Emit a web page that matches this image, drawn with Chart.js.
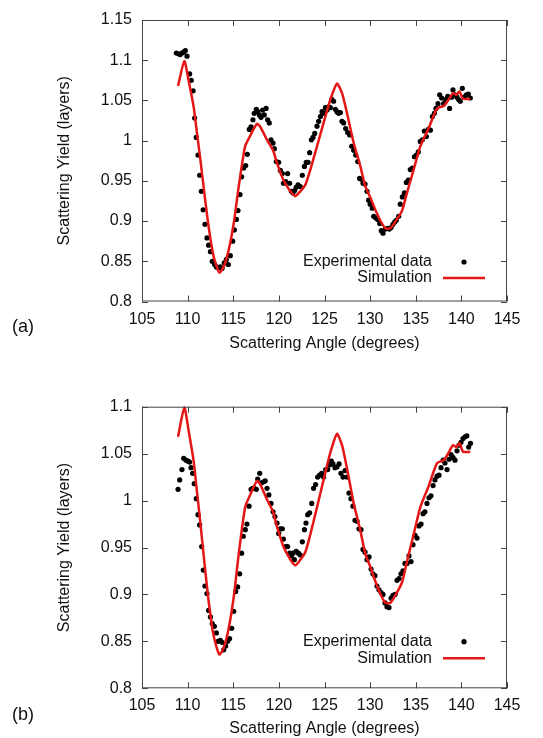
<!DOCTYPE html>
<html>
<head>
<meta charset="utf-8">
<script src="https://cdn.jsdelivr.net/npm/chart.js@4/dist/chart.umd.min.js"></script>
<style>
  body { margin: 0; background: #fff; width: 543px; height: 738px; position: relative; overflow: hidden; }
  .panel { position: absolute; left: 0; width: 543px; height: 369px; }
  .tag { position: absolute; left: 12px; font: 18px "Liberation Sans", Arial, sans-serif; color: #111; }
</style>
</head>
<body>
<div class="panel" style="top:0"><canvas id="chartA" width="543" height="369"></canvas></div>
<div class="panel" style="top:369px"><canvas id="chartB" width="543" height="369"></canvas></div>
<div class="tag" style="top:316px">(a)</div>
<div class="tag" style="top:704px">(b)</div>
<script>
// simulation (same curve in both panels)
const simAngle = [108.95, 109.64, 110.1, 110.66, 111.03, 111.4, 111.83, 112.3, 112.85, 113.47, 113.95, 114.5, 115.05, 115.6, 116.3, 116.9, 117.6, 117.97, 118.7, 119.36, 119.8, 120.5, 121.26, 121.8, 122.35, 122.9, 123.45, 124.18, 124.9, 125.64, 126.37, 126.92, 127.47, 128.2, 128.93, 129.48, 130.0, 130.57, 131.1, 131.67, 132.2, 132.76, 133.5, 134.04, 134.77, 135.5, 136.4, 137.33, 138.06, 138.6, 139.08, 139.45, 139.8, 140.18, 140.98];
const simYield = [1.068, 1.099, 1.075, 1.042, 1.009, 0.976, 0.935, 0.893, 0.856, 0.836, 0.843, 0.864, 0.897, 0.943, 0.993, 1.007, 1.021, 1.017, 1.001, 0.988, 0.972, 0.951, 0.937, 0.931, 0.937, 0.945, 0.964, 0.993, 1.022, 1.051, 1.071, 1.059, 1.034, 0.997, 0.968, 0.943, 0.930, 0.914, 0.901, 0.891, 0.891, 0.899, 0.913, 0.935, 0.964, 0.993, 1.015, 1.040, 1.043, 1.051, 1.059, 1.057, 1.061, 1.052, 1.052];

// experimental data, panel (a)
const expAngleA = [108.76, 109.0, 109.2, 109.38, 109.56, 109.75, 109.93, 110.22, 110.4, 110.6, 110.77, 110.95, 111.14, 111.32, 111.5, 111.7, 111.9, 112.12, 112.3, 112.5, 112.7, 112.96, 113.15, 113.33, 113.58, 113.77, 114.02, 114.24, 114.46, 114.68, 114.94, 115.12, 115.34, 115.52, 115.74, 115.92, 116.14, 116.36, 116.54, 116.76, 116.95, 117.16, 117.3, 117.53, 117.68, 117.86, 118.04, 118.22, 118.4, 118.6, 118.77, 118.95, 119.14, 119.36, 119.5, 119.72, 119.98, 120.16, 120.38, 120.5, 120.75, 120.96, 121.18, 121.37, 121.55, 121.73, 121.9, 122.1, 122.35, 122.57, 122.8, 123.0, 123.2, 123.37, 123.56, 123.74, 123.93, 124.18, 124.36, 124.55, 124.73, 124.9, 125.1, 125.27, 125.46, 125.64, 125.82, 126.0, 126.19, 126.37, 126.55, 126.74, 126.92, 127.1, 127.32, 127.54, 127.76, 127.98, 128.2, 128.42, 128.64, 128.85, 129.04, 129.22, 129.44, 129.66, 129.84, 130.0, 130.24, 130.39, 130.6, 130.83, 131.05, 131.23, 131.41, 131.67, 131.92, 132.1, 132.3, 132.5, 132.7, 132.87, 133.13, 133.3, 133.53, 133.75, 133.97, 134.19, 134.4, 134.63, 134.85, 135.07, 135.28, 135.5, 135.72, 135.94, 136.16, 136.38, 136.6, 136.82, 137.04, 137.22, 137.44, 137.62, 137.84, 138.06, 138.28, 138.5, 138.71, 138.93, 139.08, 139.3, 139.52, 139.7, 139.88, 140.1, 140.32, 140.54, 140.76, 140.98];
const expYieldA = [1.109, 1.108, 1.107, 1.109, 1.110, 1.112, 1.105, 1.083, 1.075, 1.062, 1.028, 1.004, 0.982, 0.957, 0.937, 0.914, 0.896, 0.879, 0.870, 0.862, 0.850, 0.846, 0.843, 0.842, 0.843, 0.841, 0.848, 0.852, 0.846, 0.857, 0.875, 0.889, 0.902, 0.913, 0.933, 0.955, 0.966, 0.969, 0.983, 1.014, 1.017, 1.026, 1.034, 1.039, 1.036, 1.032, 1.029, 1.038, 1.032, 1.040, 1.026, 1.022, 1.001, 0.997, 0.990, 0.974, 0.973, 0.963, 0.959, 0.947, 0.949, 0.959, 0.947, 0.937, 0.935, 0.938, 0.942, 0.945, 0.943, 0.957, 0.968, 0.973, 0.973, 0.985, 1.001, 1.004, 1.009, 1.018, 1.024, 1.030, 1.036, 1.034, 1.041, 1.038, 1.042, 1.041, 1.051, 1.049, 1.039, 1.036, 1.034, 1.035, 1.024, 1.022, 1.015, 1.010, 1.007, 0.993, 0.988, 0.982, 0.974, 0.953, 0.952, 0.947, 0.946, 0.937, 0.926, 0.921, 0.916, 0.906, 0.904, 0.902, 0.897, 0.888, 0.885, 0.890, 0.891, 0.890, 0.892, 0.896, 0.899, 0.901, 0.906, 0.921, 0.930, 0.935, 0.948, 0.951, 0.964, 0.966, 0.980, 0.982, 0.986, 0.999, 1.001, 1.012, 1.005, 1.014, 1.013, 1.030, 1.034, 1.040, 1.046, 1.057, 1.053, 1.046, 1.051, 1.055, 1.040, 1.054, 1.063, 1.057, 1.054, 1.051, 1.049, 1.065, 1.054, 1.057, 1.058, 1.053];

// experimental data, panel (b)
const expAngleB = [108.95, 109.13, 109.38, 109.57, 109.82, 110.04, 110.22, 110.37, 110.55, 110.73, 110.95, 111.14, 111.32, 111.54, 111.72, 111.9, 112.12, 112.3, 112.5, 112.7, 112.93, 113.15, 113.33, 113.58, 113.77, 113.95, 114.17, 114.39, 114.6, 114.83, 115.05, 115.26, 115.48, 115.7, 115.92, 116.1, 116.32, 116.5, 116.73, 116.95, 117.13, 117.3, 117.53, 117.68, 117.9, 118.1, 118.33, 118.5, 118.7, 118.9, 119.14, 119.36, 119.57, 119.8, 119.98, 120.16, 120.38, 120.5, 120.75, 120.96, 121.18, 121.37, 121.55, 121.7, 121.9, 122.14, 122.35, 122.57, 122.8, 122.97, 123.16, 123.37, 123.6, 123.8, 124.03, 124.25, 124.47, 124.69, 124.9, 125.13, 125.35, 125.57, 125.75, 125.93, 126.15, 126.37, 126.6, 126.8, 127.03, 127.25, 127.47, 127.68, 127.9, 128.12, 128.34, 128.56, 128.78, 129.0, 129.22, 129.44, 129.66, 129.88, 130.1, 130.3, 130.53, 130.75, 130.97, 131.2, 131.41, 131.63, 131.85, 132.07, 132.3, 132.5, 132.73, 132.95, 133.17, 133.38, 133.6, 133.82, 134.04, 134.26, 134.48, 134.7, 134.92, 135.14, 135.36, 135.58, 135.8, 136.0, 136.23, 136.45, 136.67, 136.9, 137.1, 137.33, 137.55, 137.77, 138.0, 138.2, 138.43, 138.65, 138.87, 139.08, 139.3, 139.52, 139.74, 139.96, 140.18, 140.4, 140.6, 140.8, 141.0];
const expYieldB = [1.012, 1.022, 1.033, 1.045, 1.043, 1.042, 1.041, 1.035, 1.029, 1.018, 1.002, 0.985, 0.974, 0.951, 0.926, 0.909, 0.901, 0.883, 0.876, 0.869, 0.866, 0.859, 0.850, 0.851, 0.849, 0.841, 0.845, 0.850, 0.853, 0.864, 0.882, 0.903, 0.908, 0.922, 0.944, 0.962, 0.969, 0.975, 0.994, 1.012, 1.013, 1.013, 1.012, 1.023, 1.029, 1.019, 1.020, 1.021, 1.013, 1.006, 0.997, 0.988, 0.983, 0.976, 0.965, 0.970, 0.970, 0.959, 0.951, 0.951, 0.944, 0.941, 0.944, 0.937, 0.946, 0.944, 0.942, 0.956, 0.969, 0.976, 0.985, 0.987, 0.997, 1.013, 1.017, 1.025, 1.027, 1.029, 1.025, 1.033, 1.033, 1.038, 1.042, 1.039, 1.035, 1.036, 1.039, 1.029, 1.025, 1.032, 1.025, 1.008, 1.002, 0.994, 0.979, 0.978, 0.970, 0.969, 0.948, 0.945, 0.937, 0.940, 0.927, 0.922, 0.920, 0.909, 0.905, 0.902, 0.900, 0.891, 0.887, 0.886, 0.896, 0.899, 0.900, 0.915, 0.917, 0.922, 0.925, 0.933, 0.933, 0.941, 0.935, 0.953, 0.963, 0.960, 0.973, 0.975, 0.986, 0.988, 0.997, 1.003, 1.005, 1.016, 1.022, 1.026, 1.027, 1.035, 1.043, 1.040, 1.033, 1.044, 1.049, 1.046, 1.043, 1.053, 1.059, 1.062, 1.066, 1.068, 1.069, 1.057, 1.061];

const angleTicks = { min: 105, max: 145, step: 5 };

const FONT = '"Liberation Sans", Arial, Helvetica, sans-serif';
const ROJO = 'rgb(228,22,22)';
const TINTA = '#111';

const pts = (xs, ys) => xs.map((x, i) => ({ x: x, y: ys[i] }));

// marco con ticks hacia adentro + leyenda estilo gnuplot
const marco = {
  id: 'marco',
  afterDraw(chart, args, opts) {
    const { ctx, chartArea: a, scales: { x, y } } = chart;
    ctx.save();
    ctx.strokeStyle = '#444';
    ctx.lineWidth = 1;
    ctx.strokeRect(a.left + 0.5, a.top + 0.5, a.right - a.left - 1, a.bottom - a.top - 1);
    ctx.beginPath();
    x.ticks.forEach(t => {
      const px = Math.round(x.getPixelForValue(t.value)) + 0.5;
      ctx.moveTo(px, a.bottom); ctx.lineTo(px, a.bottom - 6);
      ctx.moveTo(px, a.top); ctx.lineTo(px, a.top + 6);
    });
    y.ticks.forEach(t => {
      const py = Math.round(y.getPixelForValue(t.value)) + 0.5;
      ctx.moveTo(a.left, py); ctx.lineTo(a.left + 6, py);
      ctx.moveTo(a.right, py); ctx.lineTo(a.right - 6, py);
    });
    ctx.stroke();

    // leyenda
    const ds = chart.data.datasets;
    ctx.font = '16px ' + FONT;
    ctx.fillStyle = TINTA;
    ctx.textAlign = 'right';
    ctx.textBaseline = 'middle';
    ctx.fillText(ds[0].label, opts.textX, opts.rows[0]);
    ctx.fillText(ds[1].label, opts.textX, opts.rows[1]);
    ctx.beginPath();
    ctx.arc(opts.textX + 32, opts.rows[0], 2.6, 0, Math.PI * 2);
    ctx.fillStyle = ds[0].backgroundColor;
    ctx.fill();
    ctx.beginPath();
    ctx.strokeStyle = ds[1].borderColor;
    ctx.lineWidth = ds[1].borderWidth;
    ctx.moveTo(opts.textX + 11, opts.rows[1]);
    ctx.lineTo(opts.textX + 53, opts.rows[1]);
    ctx.stroke();
    ctx.restore();
  }
};

function crearGrafico(id, cfg) {
  return new Chart(document.getElementById(id), {
    type: 'scatter',
    data: {
      datasets: [{
        label: 'Experimental data',
        data: pts(cfg.angles, cfg.yields),
        backgroundColor: '#000',
        borderColor: '#000',
        pointRadius: 2.6,
        pointBorderWidth: 0,
        order: 1
      }, {
        label: 'Simulation',
        data: pts(simAngle, simYield),
        showLine: true,
        borderColor: ROJO,
        backgroundColor: ROJO,
        borderWidth: 2.5,
        pointRadius: 0,
        tension: 0.2,
        clip: 4,
        order: 0
      }]
    },
    options: {
      responsive: false,
      animation: false,
      devicePixelRatio: 1,
      layout: { padding: { left: 0, right: 36, top: cfg.padTop, bottom: 0 } },
      plugins: {
        legend: { display: false },
        tooltip: { enabled: false },
        marco: { textX: 432, rows: cfg.legendRows }
      },
      scales: {
        x: {
          type: 'linear',
          min: angleTicks.min,
          max: angleTicks.max,
          grid: { display: false, drawTicks: false },
          border: { display: false },
          ticks: { stepSize: angleTicks.step, padding: 8, maxRotation: 0, autoSkip: false, color: TINTA, font: { family: FONT, size: 16 } },
          title: { display: true, text: 'Scattering Angle (degrees)', color: TINTA, font: { family: FONT, size: 16, lineHeight: 1.2 }, padding: { top: 0, bottom: cfg.titlePad } },
          afterFit: s => { s.height = cfg.xHeight; }
        },
        y: {
          min: 0.8,
          max: cfg.yMax,
          grid: { display: false, drawTicks: false },
          border: { display: false },
          ticks: { stepSize: 0.05, padding: 10, color: TINTA, font: { family: FONT, size: 16 }, callback: v => String(+v.toFixed(2)) },
          title: { display: true, text: 'Scattering Yield (layers)', color: TINTA, font: { family: FONT, size: 16, lineHeight: 1.2 }, padding: { top: 55, bottom: 0 } },
          afterFit: s => { s.width = 142; }
        }
      }
    },
    plugins: [marco]
  });
}

crearGrafico('chartA', { angles: expAngleA, yields: expYieldA, yMax: 1.15, padTop: 20, xHeight: 67.5, titlePad: 16, legendRows: [262, 278] });
crearGrafico('chartB', { angles: expAngleB, yields: expYieldB, yMax: 1.1, padTop: 37.7, xHeight: 49.7, titlePad: 0, legendRows: [272.7, 289.3] });
</script>
</body>
</html>
